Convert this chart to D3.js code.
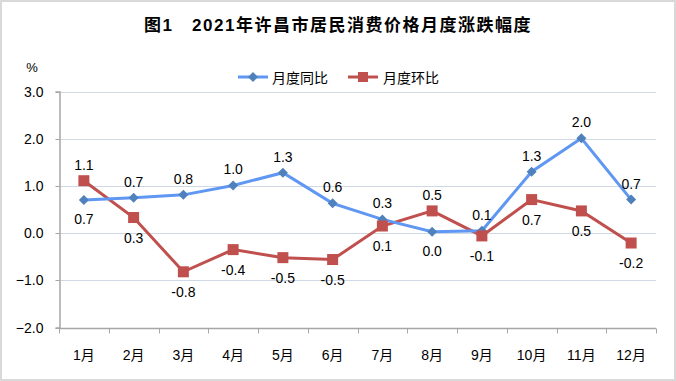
<!DOCTYPE html>
<html><head><meta charset="utf-8">
<script src="https://cdn.jsdelivr.net/npm/d3@7"></script>
<style>
body{margin:0;background:#fff;}
svg{display:block;}
text{font-family:"Liberation Sans",Arial,"Noto Sans CJK SC",sans-serif;fill:#000;}
</style></head><body>
<script>
const months = ["1月","2月","3月","4月","5月","6月","7月","8月","9月","10月","11月","12月"];
const yoyValues = [0.70,0.75,0.81,1.01,1.28,0.63,0.29,0.03,0.05,1.30,2.01,0.71];
const momValues = [1.11,0.33,-0.82,-0.35,-0.52,-0.56,0.15,0.47,-0.06,0.71,0.47,-0.21];
const yoyLabels = ["0.7","0.7","0.8","1.0","1.3","0.6","0.3","0.0","0.1","1.3","2.0","0.7"];
const momLabels = ["1.1","0.3","-0.8","-0.4","-0.5","-0.5","0.1","0.5","-0.1","0.7","0.5","-0.2"];
const yoyLabelAbove = [false,true,true,true,true,true,true,false,true,true,true,true];
const momLabelAbove = [true,false,false,false,false,false,false,true,false,false,false,false];
const yTicks = [3,2,1,0,-1,-2];
const seriesNames = ["月度同比","月度环比"];
const title = "图1　2021年许昌市居民消费价格月度涨跌幅度";

const W=676,H=381;
const svg=d3.select("body").append("svg").attr("width",W).attr("height",H);
svg.append("rect").attr("x",1).attr("y",1).attr("width",W-2).attr("height",H-2)
  .attr("fill","#fff").attr("stroke","#d9d9d9").attr("stroke-width",2);

svg.append("text").attr("x",338).attr("y",31).attr("text-anchor","middle")
  .style("font-size","17px").style("font-weight","bold").style("letter-spacing","1.5px").text(title);

const x=d3.scaleBand().domain(months).range([59,656]);
const y=d3.scaleLinear().domain([-2,3]).range([327.5,91.5]);

// gridlines
svg.append("g").selectAll("line").data(yTicks.filter(d=>d>-2)).join("line")
  .attr("x1",59).attr("x2",656).attr("y1",d=>Math.round(y(d))+0.5).attr("y2",d=>Math.round(y(d))+0.5)
  .attr("stroke","#cfd9e6").attr("stroke-width",1);

// y axis
const yAxis=d3.axisLeft(y).tickValues(yTicks).tickFormat(d3.format(".1f")).tickSize(4).tickPadding(12);
const gy=svg.append("g").attr("transform","translate(59.5,0)").call(yAxis);
gy.select(".domain").attr("stroke","#a6a6a6").attr("stroke-width",1.5);
gy.selectAll(".tick line").attr("stroke","#a6a6a6");
gy.selectAll(".tick text").style("font-size","14px").style("font-family","Liberation Sans, Arial");
gy.selectAll(".tick").attr("transform",d=>`translate(0,${Math.round(y(d))+0.5})`);

// x axis
const gx=svg.append("g").attr("transform",`translate(0,${Math.round(y(-2))+0.5})`);
gx.append("line").attr("x1",59).attr("x2",656).attr("stroke","#a6a6a6").attr("stroke-width",1.5);
gx.selectAll("line.t").data(months.concat(["end"])).join("line").attr("class","t")
  .attr("x1",(d,i)=>Math.round(59+i*x.bandwidth())+0.5).attr("x2",(d,i)=>Math.round(59+i*x.bandwidth())+0.5)
  .attr("y1",0).attr("y2",5).attr("stroke","#a6a6a6");
gx.selectAll("text").data(months).join("text")
  .attr("x",d=>x(d)+x.bandwidth()/2).attr("y",31).attr("text-anchor","middle")
  .style("font-size","14px").text(d=>d);

svg.append("text").attr("x",32).attr("y",72).attr("text-anchor","middle").style("font-size","13px").text("%");

const cx=d=>x(d)+x.bandwidth()/2;
const line=d3.line().x((d,i)=>cx(months[i])).y(d=>y(d));

// series lines
svg.append("path").datum(momValues).attr("d",line).attr("fill","none").attr("stroke","#c0504d").attr("stroke-width",3);
svg.append("path").datum(yoyValues).attr("d",line).attr("fill","none").attr("stroke","#5f97f2").attr("stroke-width",3);

// markers
const diamond="M0,-5L5,0L0,5L-5,0Z";
svg.append("g").selectAll("path").data(yoyValues).join("path")
  .attr("d",diamond).attr("transform",(d,i)=>`translate(${cx(months[i])},${y(d)})`).attr("fill","#4f81bd");
svg.append("g").selectAll("rect").data(momValues).join("rect")
  .attr("x",(d,i)=>cx(months[i])-5.5).attr("y",d=>y(d)-5.5).attr("width",11).attr("height",11).attr("fill","#c0504d");

// data labels
svg.append("g").selectAll("text").data(yoyValues).join("text")
  .attr("x",(d,i)=>cx(months[i])).attr("y",(d,i)=>y(d)+(yoyLabelAbove[i]?-11:24))
  .attr("text-anchor","middle").style("font-size","14px").text((d,i)=>yoyLabels[i]);
svg.append("g").selectAll("text").data(momValues).join("text")
  .attr("x",(d,i)=>cx(months[i])).attr("y",(d,i)=>y(d)+(momLabelAbove[i]?-11:25))
  .attr("text-anchor","middle").style("font-size","14px").text((d,i)=>momLabels[i]);

// legend
const lg=svg.append("g").attr("transform","translate(0,77)");
lg.append("line").attr("x1",238).attr("x2",268).attr("y1",0).attr("y2",0).attr("stroke","#5f97f2").attr("stroke-width",3);
lg.append("path").attr("d",diamond).attr("transform","translate(253,0)").attr("fill","#4f81bd");
lg.append("text").attr("x",272).attr("y",5.5).style("font-size","14px").text(seriesNames[0]);
lg.append("line").attr("x1",348).attr("x2",378).attr("y1",0).attr("y2",0).attr("stroke","#c0504d").attr("stroke-width",3);
lg.append("rect").attr("x",358).attr("y",-5).attr("width",10).attr("height",10).attr("fill","#c0504d");
lg.append("text").attr("x",383).attr("y",5.5).style("font-size","14px").text(seriesNames[1]);
</script>
</body></html>
